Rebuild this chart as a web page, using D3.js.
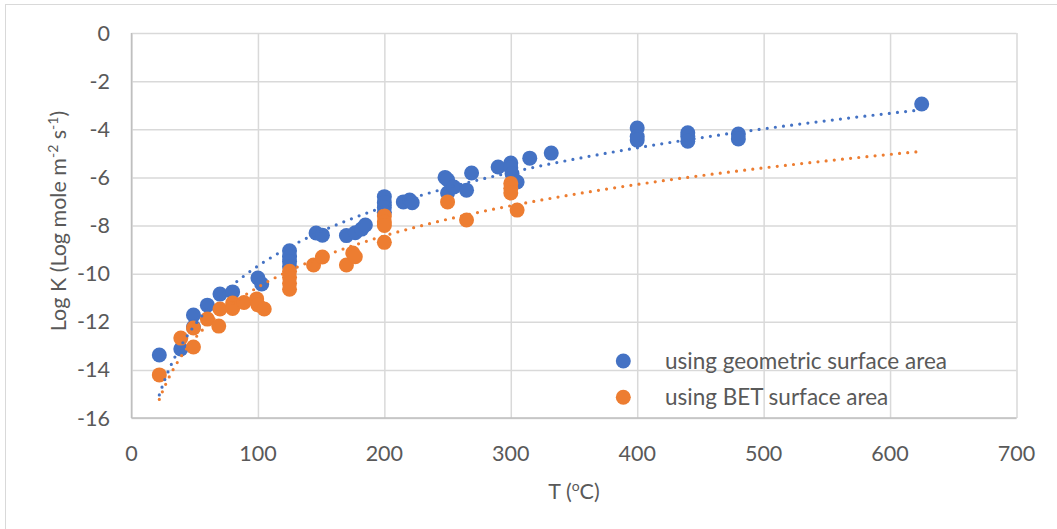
<!DOCTYPE html>
<html>
<head>
<meta charset="utf-8">
<script src="https://cdn.jsdelivr.net/npm/d3@7"></script>
<style>
  html, body { margin: 0; padding: 0; background: #fff; }
  svg { display: block; }
  text { font-family: Lato, "Liberation Sans", sans-serif; fill: #595959; }
</style>
</head>
<body>
<svg id="chart" width="1057" height="529"></svg>
<script>
// ---- Data ----
const seriesNames = ["using geometric surface area", "using BET surface area"];
const seriesColors = ["#4472C4", "#ED7D31"];

const geoT = [22, 39, 49, 49, 60, 70, 80, 100, 103, 125, 125, 125, 125, 146, 151, 170, 177, 182, 185,
  200, 200, 200, 200, 215, 220, 222, 248, 250, 250, 255, 265, 269, 290, 300, 300, 301, 305, 315, 332,
  400, 400, 400, 440, 440, 440, 480, 480, 625];
const geoLogK = [-13.38, -13.13, -11.72, -12.22, -11.31, -10.85, -10.76, -10.18, -10.43, -9.05, -9.3, -9.5, -9.7, -8.31, -8.4, -8.42, -8.3, -8.15, -7.98,
  -6.8, -7.05, -7.25, -7.45, -7.02, -6.94, -7.05, -6.0, -6.1, -6.65, -6.4, -6.53, -5.82, -5.57, -5.4, -5.6, -5.85, -6.19, -5.2, -4.99,
  -3.95, -4.3, -4.45, -4.15, -4.3, -4.5, -4.2, -4.4, -2.95];

const betT = [22, 39, 49, 49, 60, 69, 70, 80, 80, 89, 99, 100, 105, 125, 125, 125, 125, 144, 151, 170, 175, 177,
  200, 200, 200, 200, 250, 265, 300, 300, 300, 305];
const betLogK = [-14.21, -12.68, -13.05, -12.26, -11.89, -12.18, -11.47, -11.22, -11.45, -11.2, -11.05, -11.3, -11.47, -9.9, -10.15, -10.4, -10.65, -9.64, -9.31, -9.64, -9.14, -9.3,
  -7.6, -7.85, -8.0, -8.7, -7.02, -7.77, -6.25, -6.45, -6.65, -7.36];

const xTicks = [0, 100, 200, 300, 400, 500, 600, 700];
const yTicks = [0, -2, -4, -6, -8, -10, -12, -14, -16];

// ---- Layout ----
const W = 1057, H = 529;
const plot = { left: 131.5, right: 1016.5, top: 33, bottom: 418 };
const svg = d3.select("#chart");

const x = d3.scaleLinear().domain([0, 700]).range([plot.left, plot.right]);
const y = d3.scaleLinear().domain([-16, 0]).range([plot.bottom, plot.top]);

// outer chart border
svg.append("rect").attr("x", 5.5).attr("y", 4.5).attr("width", W + 10).attr("height", H + 10)
  .attr("fill", "none").attr("stroke", "#D9D9D9").attr("stroke-width", 1);

// gridlines
const gx = svg.append("g").attr("transform", `translate(0,${plot.bottom})`)
  .call(d3.axisBottom(x).tickValues(xTicks).tickSize(-(plot.bottom - plot.top)).tickFormat(""));
gx.select(".domain").remove();
gx.selectAll("line").attr("stroke", "#D9D9D9").attr("stroke-width", 1.5);

const gy = svg.append("g").attr("transform", `translate(${plot.left},0)`)
  .call(d3.axisLeft(y).tickValues(yTicks).tickSize(-(plot.right - plot.left)).tickFormat(""));
gy.select(".domain").remove();
gy.selectAll("line").attr("stroke", "#D9D9D9").attr("stroke-width", 1.5);

// axis lines
svg.append("line").attr("x1", plot.left).attr("x2", plot.left).attr("y1", plot.top).attr("y2", plot.bottom)
  .attr("stroke", "#BFBFBF").attr("stroke-width", 1.5);
svg.append("line").attr("x1", plot.left).attr("x2", plot.right).attr("y1", plot.bottom).attr("y2", plot.bottom)
  .attr("stroke", "#BFBFBF").attr("stroke-width", 1.5);

// tick labels
const fs = 21.5;
const fsText = 22.5;
svg.append("g").selectAll("text").data(yTicks).join("text")
  .attr("x", 110).attr("y", d => y(d)).attr("dy", "0.35em")
  .attr("text-anchor", "end").attr("font-size", fs).text(d => d);
svg.append("g").selectAll("text").data(xTicks).join("text")
  .attr("x", d => x(d)).attr("y", 453).attr("dy", "0.35em")
  .attr("text-anchor", "middle").attr("font-size", fs).text(d => d);

// axis titles
const yt = svg.append("text").attr("transform", "translate(66,221) rotate(-90)")
  .attr("text-anchor", "middle").attr("font-size", fs);
yt.append("tspan").text("Log K (Log mole m");
yt.append("tspan").attr("baseline-shift", "super").attr("font-size", fs * 0.65).text("-2");
yt.append("tspan").text(" s");
yt.append("tspan").attr("baseline-shift", "super").attr("font-size", fs * 0.65).text("-1");
yt.append("tspan").text(")");

const xt = svg.append("text").attr("x", 574).attr("y", 499)
  .attr("text-anchor", "middle").attr("font-size", fs);
xt.append("tspan").text("T (");
xt.append("tspan").attr("baseline-shift", "super").attr("font-size", fs * 0.65).text("o");
xt.append("tspan").text("C)");

// series
const series = [
  geoT.map((t, i) => ({ t, k: geoLogK[i] })),
  betT.map((t, i) => ({ t, k: betLogK[i] }))
];

series.forEach((pts, si) => {
  svg.append("g").selectAll("circle").data(pts).join("circle")
    .attr("cx", d => x(d.t)).attr("cy", d => y(d.k)).attr("r", 7.5)
    .attr("fill", seriesColors[si]);
});

// logarithmic trendlines (least squares fit of logK on ln T)
function logFit(pts) {
  const lx = pts.map(p => Math.log(p.t));
  const mx = d3.mean(lx), my = d3.mean(pts, p => p.k);
  let sxy = 0, sxx = 0;
  pts.forEach((p, i) => { sxy += (lx[i] - mx) * (p.k - my); sxx += (lx[i] - mx) ** 2; });
  const a = sxy / sxx;
  return { a, b: my - a * mx };
}
const tExtent = d3.extent(geoT.concat(betT));
const tSamples = d3.range(0, 201).map(i => tExtent[0] + (tExtent[1] - tExtent[0]) * i / 200);
const line = d3.line().x(d => x(d[0])).y(d => y(d[1]));

series.forEach((pts, si) => {
  const f = logFit(pts);
  svg.append("path")
    .attr("d", line(tSamples.map(t => [t, f.a * Math.log(t) + f.b])))
    .attr("fill", "none").attr("stroke", seriesColors[si]).attr("stroke-width", 3.2)
    .attr("stroke-linecap", "round").attr("stroke-dasharray", "0 8.2");
});

// legend
const lg = svg.append("g");
seriesNames.forEach((name, i) => {
  const yy = 361 + i * 36.3;
  lg.append("circle").attr("cx", 623.3).attr("cy", yy).attr("r", 7.5).attr("fill", seriesColors[i]);
  lg.append("text").attr("x", 665).attr("y", yy).attr("dy", "0.35em").attr("font-size", fsText).text(name);
});
</script>
</body>
</html>
